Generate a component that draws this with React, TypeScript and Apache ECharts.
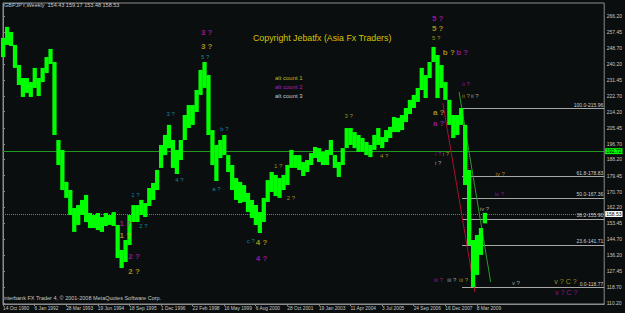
import React, { useEffect, useRef } from 'react';
import * as echarts from 'echarts';

// ---- data ----
const weekLabels = [
  '14 Oct 1990', '6 Jan 1992', '28 Mar 1993', '19 Jun 1994', '18 Sep 1995', '1 Dec 1996',
  '22 Feb 1998', '16 May 1999', '6 Aug 2000', '28 Oct 2001', '19 Jan 2003', '11 Apr 2004',
  '3 Jul 2005', '24 Sep 2006', '16 Dec 2007', '8 Mar 2009',
];
const WEEKS_PER_LABEL = 64;
const SAMPLE_STEP = 8; // weeks between samples
const X_MAX_WEEK = 1218;

const highs = [254.3, 260.3, 257.5, 250.5, 239.6, 232.5, 232.5, 230.3, 238.0, 232.5, 238.0, 243.9, 248.3, 241.2, 198.8, 193.4, 176.0, 171.6, 161.8, 163.4, 166.2, 168.9, 159.1, 158.0, 159.1, 156.9, 159.1, 158.0, 159.6, 152.6, 139.0, 144.4, 158.0, 163.4, 163.4, 166.2, 164.5, 172.7, 175.4, 182.5, 196.1, 201.5, 207.0, 198.8, 193.4, 198.8, 212.4, 217.8, 217.8, 226.0, 236.9, 241.2, 234.1, 204.2, 196.1, 198.8, 201.5, 190.6, 185.2, 178.1, 176.0, 174.3, 170.0, 166.2, 163.4, 159.6, 167.3, 177.0, 181.4, 179.8, 178.1, 179.8, 185.2, 193.4, 190.6, 190.6, 186.8, 187.9, 191.7, 195.0, 194.4, 192.3, 193.4, 198.8, 190.6, 186.8, 194.4, 205.3, 205.3, 203.1, 201.5, 199.9, 197.7, 196.1, 201.5, 205.3, 200.4, 204.2, 205.9, 211.3, 210.8, 212.4, 216.2, 220.6, 223.3, 227.1, 238.0, 234.1, 241.2, 249.4, 245.0, 239.6, 230.3, 220.6, 212.4, 212.4, 216.2, 207.0, 182.5, 144.4, 147.1, 150.9, 159.17];
const lows = [243.9, 250.5, 249.9, 238.0, 228.7, 222.2, 224.4, 222.2, 227.1, 222.7, 230.3, 235.2, 240.1, 201.5, 185.2, 171.6, 167.3, 158.0, 148.8, 152.6, 158.0, 154.2, 150.9, 150.9, 149.8, 148.8, 152.0, 152.6, 152.0, 134.6, 129.2, 132.4, 141.7, 154.2, 154.2, 158.0, 156.9, 162.9, 166.2, 171.6, 183.6, 190.6, 194.4, 183.6, 180.3, 187.9, 198.8, 205.3, 207.0, 214.0, 223.3, 227.1, 201.5, 185.2, 176.5, 189.0, 190.6, 181.4, 171.6, 166.2, 164.5, 165.1, 159.6, 156.4, 152.6, 148.2, 154.2, 165.1, 170.5, 168.3, 167.3, 171.6, 174.3, 183.6, 183.6, 182.5, 179.2, 181.4, 185.2, 189.0, 186.8, 185.2, 185.2, 190.6, 183.6, 178.7, 185.2, 194.4, 196.1, 194.4, 192.3, 192.3, 190.6, 189.5, 193.4, 196.1, 194.4, 197.7, 199.9, 203.1, 203.1, 204.2, 208.6, 212.9, 216.2, 219.5, 226.0, 221.6, 232.5, 241.2, 221.6, 227.1, 220.6, 207.0, 199.9, 201.5, 207.0, 174.3, 141.7, 118.8, 125.4, 136.3, 153.48];

const yTickValues = [266.2, 257.45, 248.7, 240.2, 231.45, 222.7, 214.2, 205.45, 196.7, 188.2, 179.45, 170.7, 162.2, 153.45, 144.7, 136.2, 127.45, 118.7, 110.2];
const Y_MIN = 109.6;
const Y_MAX = 273.3;

const levelLine = 192.72;
const lastClose = 158.53;
const titleText = 'GBPJPY,Weekly  154.43 159.17 153.48 158.53';
const footerText = 'Interbank FX Trader 4, \u00A9 2001-2008 MetaQuotes Software Corp.';
const copyrightText = 'Copyright Jebatfx (Asia Fx Traders)';
const altCounts = ['alt count 1', 'alt count 2', 'alt count 3'];

const fibNames = ['100.0', '61.8', '50.0', '38.2', '23.6', '0.0'];
const fibValues = [215.96, 178.83, 167.36, 155.9, 141.71, 118.77];
const fibStartWeek = 930;

// trend lines: [week1, price1, week2, price2, colorKey, dash]
const trendLines: [number, number, number, number, string, string][] = [
  [891, 218.9, 956, 116.1, 'red', 'solid'],
  [924, 224.9, 988, 121.6, 'green', 'solid'],
  [938, 205.3, 956, 118.3, 'pink', 'dotted'],
];

// wave labels: [week, price, text, colorKey, size]
const waveLabels: [number, number, string, string, string][] = [
  [331, 212.9, '3 ?', 'cyan', 's'],
  [349, 177.0, '4 ?', 'cyan', 's'],
  [401, 243.9, '5 ?', 'cyan', 's'],
  [401, 249.4, '3 ?', 'olive', 'b'],
  [401, 257.5, '3 ?', 'magenta', 'b'],
  [440, 204.8, 'b ?', 'cyan', 's'],
  [424, 172.1, 'a ?', 'cyan', 's'],
  [549, 184.7, '1 ?', 'olive', 's'],
  [575, 167.2, '2 ?', 'olive', 's'],
  [494, 143.9, 'c ?', 'cyan', 's'],
  [512, 143.3, '4 ?', 'olive', 'b'],
  [512, 134.6, '4 ?', 'magenta', 'b'],
  [260, 168.9, '1 ?', 'cyan', 's'],
  [276, 152.0, '2 ?', 'cyan', 's'],
  [236, 153.6, '1 ?', 'magenta', 'b'],
  [236, 146.6, '1 ?', 'olive', 'b'],
  [254, 135.2, '2 ?', 'magenta', 'b'],
  [254, 127.5, '2 ?', 'olive', 'b'],
  [692, 211.8, '3 ?', 'olive', 's'],
  [764, 190.1, '4 ?', 'olive', 's'],
  [869, 264.6, '5 ?', 'magenta', 'b'],
  [869, 259.2, '5 ?', 'olive', 'b'],
  [869, 254.3, '5 ?', 'olive', 's'],
  [891, 246.6, 'b ?', 'olive', 'b'],
  [918, 246.6, 'b ?', 'magenta', 'b'],
  [871, 214.0, 'a ?', 'olive', 'b'],
  [871, 207.5, 'a ?', 'magenta', 'b'],
  [875, 191.2, 'i ?', 'magenta', 's'],
  [891, 191.2, 'i ?', 'olive', 's'],
  [875, 186.3, 'i ?', 'white', 's'],
  [930, 229.2, 'ii ?', 'magenta', 's'],
  [930, 222.7, 'ii ?', 'olive', 's'],
  [948, 222.7, 'ii ?', 'white', 's'],
  [998, 180.3, 'iv ?', 'olive', 's'],
  [996, 169.4, 'iv ?', 'magenta', 's'],
  [966, 161.3, 'iv ?', 'white', 's'],
  [873, 122.6, 'iii ?', 'magenta', 's'],
  [900, 122.6, 'iii ?', 'white', 's'],
  [924, 122.6, 'iii ?', 'olive', 's'],
  [1031, 121.0, 'v ?', 'white', 's'],
  [1117, 121.6, 'v ? C ?', 'olive', 'm'],
  [1119, 115.6, 'v ? C ?', 'magenta', 'm'],
];

// ---- styles ----
const BG = '#0a0e0e';
const FONT = '"Liberation Sans", Arial, sans-serif';
const AXIS = '#8c8c8c';
const TXT = '#c8c8c8';
const colors: Record<string, string> = {
  cyan: '#1ea4b8',
  olive: '#c8b020',
  magenta: '#b41cb8',
  white: '#c8c8c8',
  red: '#a8102c',
  green: '#2e9a2e',
  pink: '#c8187a',
};
const sizes: Record<string, number> = { b: 8, m: 7, s: 6 };

export default function App() {
  const ref = useRef<HTMLDivElement>(null);
  useEffect(() => {
    if (!ref.current) return;
    const chart = echarts.init(ref.current, undefined, { renderer: 'svg' });
    const bars = highs.map((h, i) => [i * SAMPLE_STEP, lows[i], h]);
    const labelWeeks = weekLabels.map((_, i) => i * WEEKS_PER_LABEL);

    const fibLines = fibValues.map((v, i) => [
      {
        coord: [fibStartWeek, v],
        lineStyle: { color: '#a8a8a8', width: 1, type: 'solid' },
        label: {
          show: true,
          position: 'insideEndTop',
          formatter: `${fibNames[i]}-${v.toFixed(2)}`,
          color: '#d0d0d0',
          fontSize: 5,
          fontFamily: FONT,
          distance: 1,
        },
      },
      { coord: [X_MAX_WEEK, v] },
    ]);
    const trends = trendLines.map(([w1, p1, w2, p2, c, d]) => [
      { coord: [w1, p1], lineStyle: { color: colors[c], width: 1, type: d }, label: { show: false } },
      { coord: [w2, p2] },
    ]);

    const option: any = {
      animation: false,
      backgroundColor: BG,
      textStyle: { fontFamily: FONT },
      grid: { left: 2, top: 3, right: 19, bottom: 9, show: true, borderColor: AXIS, borderWidth: 1 },
      xAxis: {
        type: 'value',
        min: 0,
        max: X_MAX_WEEK,
        interval: WEEKS_PER_LABEL,
        axisLine: { show: true, lineStyle: { color: AXIS } },
        axisTick: { show: true, length: 2, lineStyle: { color: AXIS }, customValues: labelWeeks },
        axisLabel: {
          color: TXT,
          fontSize: 4.8,
          fontFamily: FONT,
          align: 'left',
          margin: 1.5,
          customValues: labelWeeks,
          formatter: (v: number) => {
            const i = Math.round(v / WEEKS_PER_LABEL);
            return Math.abs(v - i * WEEKS_PER_LABEL) < 0.01 && weekLabels[i] ? weekLabels[i] : '';
          },
        },
        splitLine: { show: false },
      },
      yAxis: {
        type: 'value',
        position: 'right',
        min: Y_MIN,
        max: Y_MAX,
        axisLine: { show: true, lineStyle: { color: AXIS } },
        axisTick: { show: true, length: 2, lineStyle: { color: AXIS }, customValues: yTickValues },
        axisLabel: {
          color: TXT,
          fontSize: 5,
          fontFamily: FONT,
          margin: 2.5,
          customValues: yTickValues,
          formatter: (v: number) => v.toFixed(2),
        },
        splitLine: { show: false },
      },
      series: [
        {
          type: 'custom',
          data: bars,
          encode: { x: 0, y: [1, 2] },
          renderItem: (params: any, api: any) => {
            const w = api.value(0);
            const top = api.coord([w, api.value(2)]);
            const bot = api.coord([w, api.value(1)]);
            const bw = api.size([SAMPLE_STEP, 0])[0];
            return {
              type: 'rect',
              shape: { x: top[0] - bw / 2, y: top[1], width: bw + 0.3, height: Math.max(1, bot[1] - top[1]) },
              style: { fill: '#00ff00' },
            };
          },
          z: 3,
          markLine: {
            silent: true,
            symbol: ['none', 'none'],
            animation: false,
            z: 2,
            data: [
              {
                yAxis: levelLine,
                lineStyle: { color: '#1f9a1f', width: 1, type: 'solid' },
                label: {
                  show: true,
                  position: 'end',
                  formatter: levelLine.toFixed(2),
                  backgroundColor: '#00ff00',
                  color: '#000',
                  fontSize: 5,
                  fontFamily: FONT,
                  padding: [1, 1, 0, 1],
                  distance: 1,
                },
              },
              {
                yAxis: lastClose,
                lineStyle: { color: '#6a7a88', width: 1, type: 'dotted' },
                label: {
                  show: true,
                  position: 'end',
                  formatter: lastClose.toFixed(2),
                  backgroundColor: '#ffffff',
                  color: '#000',
                  fontSize: 5,
                  fontFamily: FONT,
                  padding: [1, 1, 0, 1],
                  distance: 1,
                },
              },
              ...fibLines,
              ...trends,
            ],
          },
        },
        {
          type: 'scatter',
          symbolSize: 0,
          silent: true,
          z: 5,
          data: waveLabels.map(([w, p, t, c, s]) => ({
            value: [w, p],
            label: {
              show: true,
              position: 'right',
              distance: 0,
              formatter: t,
              color: colors[c],
              fontSize: sizes[s],
              fontWeight: s === 'b' ? 'bold' : 'normal',
              fontFamily: FONT,
            },
          })),
        },
      ],
      graphic: [
        { type: 'text', left: 4, top: 2, style: { text: titleText, fill: TXT, fontSize: 5.5, fontFamily: FONT } },
        { type: 'text', left: 3, top: 295, style: { text: footerText, fill: TXT, fontSize: 5.5, fontFamily: FONT } },
        { type: 'text', left: 253, top: 33, style: { text: copyrightText, fill: '#d4c400', fontSize: 8.8, fontFamily: FONT } },
        { type: 'text', left: 275, top: 75, style: { text: altCounts[0], fill: colors.olive, fontSize: 6, fontFamily: FONT } },
        { type: 'text', left: 275, top: 84, style: { text: altCounts[1], fill: colors.magenta, fontSize: 6, fontFamily: FONT } },
        { type: 'text', left: 275, top: 93, style: { text: altCounts[2], fill: colors.white, fontSize: 6, fontFamily: FONT } },
      ],
    };
    chart.setOption(option);
    return () => chart.dispose();
  }, []);
  return (
    <div
      ref={ref}
      style={{ position: 'fixed', left: 0, top: 0, width: 625, height: 313, background: BG }}
    />
  );
}
